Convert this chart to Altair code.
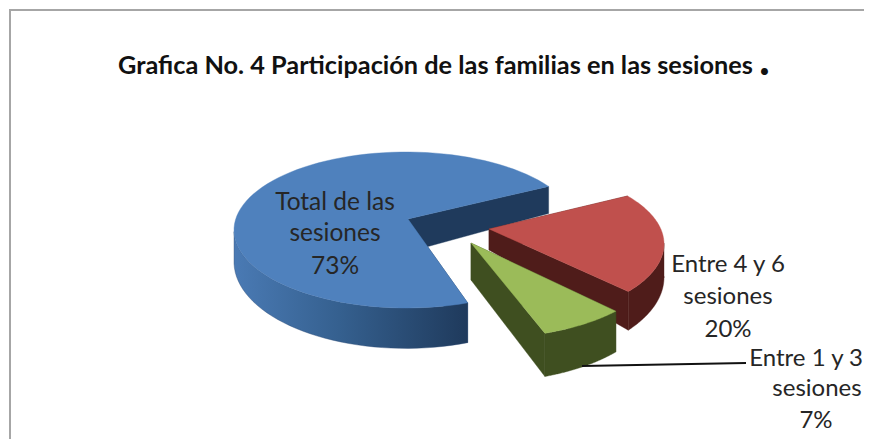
import numpy as np
import pandas as pd
import altair as alt

# --- values
categories = ["Total de las sesiones", "Entre 4 y 6 sesiones", "Entre 1 y 3 sesiones"]
shares = [73, 20, 7]
TITLE = "Grafica No. 4 Participación de las familias en las sesiones"

# --- styling / layout (reference pixel space)
W, H = 864, 439
tops = ["#4f81bd", "#c0504d", "#9bbb59"]
walls = ["#1f3a5c", "#4f1c1a", "#3f4f20"]
apex = [(408, 219), (489, 229), (471, 243)]
centre = [(406, 230), (492, 244), (486, 260)]
start = [69, -38, 41]
persp = [0.978, 1.05, 1.15]  # perspective foreshortening of each slice's sweep
apex_depth = [33, 21, 37]
A, B = 172, 78


def depth(y):
    return 27 + (y - 186) * 0.11


def frame(pts):
    pts = list(pts) + [pts[0]]
    return pd.DataFrame({"x": [p[0] for p in pts], "y": [p[1] for p in pts], "i": range(len(pts))})


xs = alt.Scale(domain=[8, W], nice=False, zero=False)
ys = alt.Scale(domain=[H, 8], nice=False, zero=False)
X = alt.X("x:Q", scale=xs, axis=None)
Y = alt.Y("y:Q", scale=ys, axis=None)


def poly(pts, fill=None, gradient=None):
    paint = gradient if gradient is not None else fill
    mark = alt.Chart(frame(pts)).mark_line(
        fill=paint, stroke=paint if gradient is None else "#2a4a74", strokeWidth=0.4,
        interpolate="linear",
    )
    return mark.encode(x=X, y=Y, order="i:Q")


layers = []

# outer frame of the picture (open on the right, as in the reference)
layers.append(
    alt.Chart(pd.DataFrame({"x": [10, 10, W], "y": [H, 10, 10], "i": range(3)}))
    .mark_line(stroke="#a6a6a6", strokeWidth=2)
    .encode(x=X, y=Y, order="i:Q")
)

for k, share in enumerate(shares):
    sweep = share * 3.6 * persp[k]
    ts = np.radians(np.linspace(start[k], start[k] + sweep, 90))
    cx, cy = centre[k]
    ax, ay = apex[k]
    arc = [(cx + A * np.cos(t), cy + B * np.sin(t)) for t in ts]
    low_apex = (ax, ay + apex_depth[k])
    low = [(x, y + depth(y)) for x, y in arc]
    ends = [(arc[0], low[0]), (arc[-1], low[-1])]
    cuts = [[(ax, ay), e[0], e[1], low_apex] for e in ends]
    cuts.sort(key=lambda q: q[1][1])
    for q in cuts:
        layers.append(poly(q, fill=walls[k]))
    front = [i for i, t in enumerate(ts) if np.sin(t) > -0.02]
    seq = sorted(front, key=lambda i: arc[i][0])
    outline = [arc[i] for i in seq] + [low[i] for i in reversed(seq)]
    if k == 0:
        grad = alt.LinearGradient(
            gradient="linear", x1=0, x2=1, y1=0, y2=0,
            stops=[alt.GradientStop(offset=0, color="#4a7ab4"),
                   alt.GradientStop(offset=0.45, color="#35608f"),
                   alt.GradientStop(offset=1, color="#1f3a5c")],
        )
        layers.append(poly(outline, gradient=grad))
    else:
        layers.append(poly(outline, fill=walls[k]))
    layers.append(poly([(ax, ay)] + arc, fill=tops[k]))

# leader line
layers.append(
    alt.Chart(pd.DataFrame({"x": [582, 746], "y": [366, 363], "i": [0, 1]}))
    .mark_line(stroke="#111111", strokeWidth=2)
    .encode(x=X, y=Y, order="i:Q")
)


def text(rows, size, weight="normal", align="center", color="#262626", baseline="middle"):
    return (
        alt.Chart(pd.DataFrame(rows, columns=["x", "y", "t"]))
        .mark_text(font="Lato", fontSize=size, fontWeight=weight, align=align, baseline=baseline, color=color)
        .encode(x=X, y=Y, text="t:N")
    )


layers.append(text([(118, 66, TITLE)], 25.3, "bold", "left", "#111111"))
layers.append(text([(759, 75, ".")], 46, "bold", "left", "#111111", "alphabetic"))

layers.append(text([(335, 203, "Total de las"), (335, 234, "sesiones"),
                    (335, 267, f"{shares[0]}%")], 24.5))
layers.append(text([(728, 265, "Entre 4 y 6"), (728, 297, "sesiones"),
                    (728, 330, f"{shares[1]}%")], 24))
layers.append(text([(863, 359, "Entre 1 y 3")], 24, align="right"))
layers.append(text([(817, 389, "sesiones"), (816, 421, f"{shares[2]}%")], 24))

chart = alt.layer(*layers).properties(
    width=W - 8, height=H - 8, padding=0, background="white",
    autosize=alt.AutoSizeParams(type="none"),
).configure_view(stroke=None)

chart.save("out.html", embed_options={"renderer": "svg", "actions": False})
